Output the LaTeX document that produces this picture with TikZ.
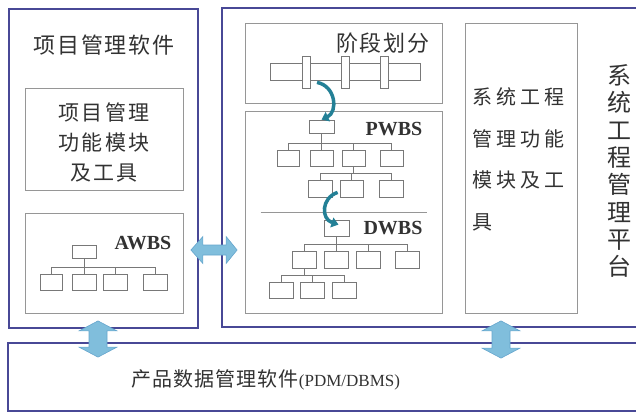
\documentclass[tikz,border=0pt]{standalone}
\usepackage{fontspec}
\setmainfont{Liberation Serif}
\newfontfamily\cjk{Noto Sans CJK SC}
\usetikzlibrary{arrows.meta,calc}
\definecolor{outerc}{RGB}{72,72,150}
\definecolor{innerc}{RGB}{150,150,150}
\definecolor{treec}{RGB}{120,120,120}
\definecolor{txt}{RGB}{50,50,50}
\definecolor{arrfill}{RGB}{128,190,220}
\definecolor{arredge}{RGB}{100,165,205}
\definecolor{tealc}{RGB}{35,128,150}
\newcommand\lsp{\hspace{2.5pt}}
\newcommand\wsp{\hspace{4pt}}
\newcommand\myvarrow[2]{\filldraw[bigarr] (#1) -- ($(#1)+(19,10)$) -- ($(#1)+(9,10)$) -- ($(#2)+(9,-10)$) -- ($(#2)+(19,-10)$) -- (#2) -- ($(#2)+(-19,-10)$) -- ($(#2)+(-9,-10)$) -- ($(#1)+(-9,10)$) -- ($(#1)+(-19,10)$) -- cycle;}
\begin{document}
\begin{tikzpicture}[x=1pt,y=-1pt,
  outerbox/.style={draw=outerc,line width=1.8pt,inner sep=0pt},
  innerbox/.style={draw=innerc,line width=0.9pt,inner sep=0pt},
  tb/.style={draw=treec,line width=0.8pt,fill=white,inner sep=0pt,minimum width=24pt,minimum height=16pt},
  tl/.style={draw=treec,line width=0.8pt},
  bigarr/.style={fill=arrfill,draw=arredge,line width=0.6pt},
  tealarr/.style={draw=tealc,line width=3.5pt,-{Triangle[length=7pt,width=10pt]}},
  ctext/.style={text=txt,inner sep=0pt},
  wbs/.style={text=txt,inner sep=0pt,font=\fontsize{20}{24}\selectfont\bfseries}]
\useasboundingbox (0,0) rectangle (636,413);
\clip (0,0) rectangle (636,413);

% ---------- outer frames ----------
\node[outerbox,minimum width=189pt,minimum height=319pt] (lsw) at (103.5,168.5) {};
\node[outerbox,minimum width=423pt,minimum height=319pt] (rsw) at (433.5,167.5) {};
\node[outerbox,minimum width=637pt,minimum height=68pt] (pdm) at (326.5,377) {};

% ---------- left: project management software ----------
\node[ctext,font=\cjk\fontsize{22}{26}\selectfont] (ltitle) at (104,45)
  {项\hspace{1.7pt}目\hspace{1.7pt}管\hspace{1.7pt}理\hspace{1.7pt}软\hspace{1.7pt}件};
\node[innerbox,minimum width=158pt,minimum height=102pt] (lfun) at (104,139) {};
\node[ctext,font=\cjk\fontsize{21}{30}\selectfont,align=center] (lfuntext) at (104,142)
  {项\lsp 目\lsp 管\lsp 理\\功\lsp 能\lsp 模\lsp 块\\及\lsp 工\lsp 具};
\node[innerbox,minimum width=158pt,minimum height=100pt] (awbsbox) at (104,263) {};
\node[wbs] (awbs) at (143,243) {AWBS};

% AWBS tree
\node[tb,minimum height=13pt] (a0) at (84,251.5) {};
\node[tb,minimum width=22pt] (a1) at (51,282) {};
\node[tb] (a2) at (84,282) {};
\node[tb] (a3) at (115,282) {};
\node[tb] (a4) at (155,282) {};
\coordinate (abus) at (0,267);
\draw[tl] (a0.south) -- (a0.south |- abus);
\draw[tl] (a1.north) |- (a4.north |- abus) -- (a4.north);
\draw[tl] (a2.north) -- (a2.north |- abus);
\draw[tl] (a3.north) -- (a3.north |- abus);

% ---------- right: stage division ----------
\node[innerbox,minimum width=197pt,minimum height=80pt] (stage) at (343.5,63) {};
\node[ctext,font=\cjk\fontsize{22}{26}\selectfont] (stagetext) at (383,43)
  {阶\hspace{2pt}段\hspace{2pt}划\hspace{2pt}分};
\node[tb,minimum width=150pt,minimum height=17pt] (bar) at (345,71.5) {};
\node[tb,minimum width=8pt,minimum height=32pt] (t1) at (306,72) {};
\node[tb,minimum width=8pt,minimum height=32pt] (t2) at (345,72) {};
\node[tb,minimum width=8pt,minimum height=32pt] (t3) at (384,72) {};

% ---------- right: PWBS / DWBS ----------
\node[innerbox,minimum width=197pt,minimum height=202pt] (pw) at (343.5,212) {};
\draw[innerc,line width=0.9pt] ([xshift=16pt]pw.west) -- ([xshift=-15pt]pw.east);

\node[tb,minimum width=25pt,minimum height=13pt] (p0) at (321.5,126.5) {};
\node[wbs] (pwbs) at (394,129) {PWBS};
\node[tb,minimum width=22pt] (p1) at (288,158) {};
\node[tb,minimum width=23pt] (p2) at (321.5,158) {};
\node[tb,minimum width=23pt] (p3) at (353.5,158) {};
\node[tb,minimum width=23pt] (p4) at (391.5,158) {};
\coordinate (pbus) at (0,143);
\draw[tl] (p0.south) -- (p0.south |- pbus);
\draw[tl] (p1.north) |- (p4.north |- pbus) -- (p4.north);
\draw[tl] (p2.north) -- (p2.north |- pbus);
\draw[tl] (p3.north) -- (p3.north |- pbus);

\node[tb,minimum height=17pt] (q1) at (320,188.5) {};
\node[tb,minimum width=23pt,minimum height=17pt] (q2) at (351.5,188.5) {};
\node[tb,minimum height=17pt] (q3) at (391,188.5) {};
\coordinate (qbus) at (0,173);
\draw[tl] (p3.south) -- (p3.south |- qbus);
\draw[tl] (q1.north) |- (q3.north |- qbus) -- (q3.north);
\draw[tl] (q2.north) -- (q2.north |- qbus);

\node[tb,minimum width=25pt] (d0) at (336.5,228) {};
\node[wbs] (dwbs) at (393,228) {DWBS};
\node[tb,minimum height=17pt] (e1) at (304.5,259.5) {};
\node[tb,minimum height=17pt] (e2) at (336.5,259.5) {};
\node[tb,minimum height=17pt] (e3) at (368,259.5) {};
\node[tb,minimum height=17pt] (e4) at (407,259.5) {};
\coordinate (ebus) at (0,244);
\draw[tl] (d0.south) -- (d0.south |- ebus);
\draw[tl] (e1.north) |- (e4.north |- ebus) -- (e4.north);
\draw[tl] (e2.north) -- (e2.north |- ebus);
\draw[tl] (e3.north) -- (e3.north |- ebus);

\node[tb] (f1) at (281,290) {};
\node[tb] (f2) at (312.5,290) {};
\node[tb] (f3) at (344.5,290) {};
\coordinate (fbus) at (0,275);
\draw[tl] (e1.south) -- (e1.south |- fbus);
\draw[tl] (f1.north) |- (f3.north |- fbus) -- (f3.north);
\draw[tl] (f2.north) -- (f2.north |- fbus);

% teal curved arrows
\coordinate (c1s) at ($(bar.south)+(-28,2)$);
\draw[tealarr] (c1s) .. controls (336,86) and (338,112) .. (p0.north);
\coordinate (c2s) at ($(q2.south west)+(-2,-5)$);
\coordinate (c2e) at ($(d0.north)+(2,5)$);
\draw[tealarr] (c2s) .. controls (321,198) and (321,219) .. (c2e);

% ---------- right: systems engineering module ----------
\node[innerbox,minimum width=112pt,minimum height=290pt] (sysbox) at (521,168) {};
\node[ctext,font=\cjk\fontsize{20}{41.7}\selectfont,align=left,anchor=west] (systext) at (472,159.5)
  {系\wsp 统\wsp 工\wsp 程\\管\wsp 理\wsp 功\wsp 能\\模\wsp 块\wsp 及\wsp 工\\具};
\node[ctext,font=\cjk\fontsize{24}{27.3}\selectfont,align=center] (platform) at (619,171)
  {系\\统\\工\\程\\管\\理\\平\\台};

% ---------- bottom: PDM ----------
\node[ctext] (pdmtext) at (266,380)
  {{\cjk\fontsize{20}{24}\selectfont 产\hspace{1pt}品\hspace{1pt}数\hspace{1pt}据\hspace{1pt}管\hspace{1pt}理\hspace{1pt}软\hspace{1pt}件}{\fontsize{17}{24}\selectfont(PDM/DBMS)}};

% ---------- big double arrows ----------
\coordinate (hl) at ($(lsw.east |- 0,250)+(-8,0)$);
\coordinate (hr) at ($(rsw.west |- 0,250)+(16,0)$);
\filldraw[bigarr] (hl) -- ($(hl)+(12,-13.5)$) -- ($(hl)+(12,-5)$) -- ($(hr)+(-11,-5)$) -- ($(hr)+(-11,-13.5)$) -- (hr)
  -- ($(hr)+(-11,13.5)$) -- ($(hr)+(-11,5)$) -- ($(hl)+(12,5)$) -- ($(hl)+(12,13.5)$) -- cycle;

\coordinate (lvx) at (98,0);
\coordinate (lvt) at ($(lsw.south -| lvx)+(0,-8)$);
\coordinate (lvb) at ($(pdm.north -| lvx)+(0,15)$);
\myvarrow{lvt}{lvb}
\coordinate (rvx) at (501,0);
\coordinate (rvt) at ($(rsw.south -| rvx)+(0,-7)$);
\coordinate (rvb) at ($(pdm.north -| rvx)+(0,16)$);
\myvarrow{rvt}{rvb}
\end{tikzpicture}
\end{document}
